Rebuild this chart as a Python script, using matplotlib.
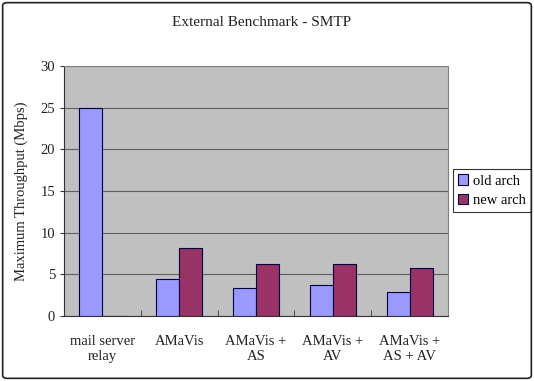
import matplotlib.pyplot as plt
import numpy as np
from matplotlib.patches import FancyBboxPatch

categories = ["mail server\nrelay", "AMaVis", "AMaVis +\nAS", "AMaVis +\nAV", "AMaVis +\nAS + AV"]
old_arch = [25, 4.4, 3.4, 3.7, 2.9]
new_arch = [0, 8.1, 6.2, 6.2, 5.8]
yticks = [0, 5, 10, 15, 20, 25, 30]

plt.rcParams['font.family'] = ['Liberation Serif', 'DejaVu Serif']

fig = plt.figure(figsize=(5.34, 3.81), dpi=100)
ax = fig.add_axes([0.12, 0.171, 0.719, 0.656])

x = np.arange(len(categories))
w = 0.3
ax.bar(x - w / 2, old_arch, w, color='#9999FF', edgecolor='#000040', linewidth=0.8,
       label='old arch', zorder=3)
ax.bar(x + w / 2, new_arch, w, color='#993366', edgecolor='#000040', linewidth=0.8,
       label='new arch', zorder=3)

ax.set_facecolor('#C0C0C0')
ax.set_xlim(-0.5, len(categories) - 0.5)
ax.set_ylim(0, 30)
ax.set_yticks(yticks)
ax.yaxis.grid(True, color='#606060', linewidth=0.8, zorder=0)
ax.set_axisbelow(True)

ax.set_xticks(x)
ax.set_xticklabels(categories, fontsize=10.5, color='#222222')
ax.tick_params(axis='x', length=0, pad=14)
ax.set_xticks(np.arange(len(categories) + 1) - 0.5, minor=True)
ax.tick_params(axis='x', which='minor', length=4, direction='in', color='#333333')
ax.tick_params(axis='y', length=3, labelsize=10.5, labelcolor='#222222', color='#333333')

for s in ['top', 'right']:
    ax.spines[s].set_color('#808080')
for s in ['left', 'bottom']:
    ax.spines[s].set_color('#333333')

ax.set_ylabel("Maximum Throughput (Mbps)", fontsize=10.5, color='#222222', labelpad=9)
fig.text(0.49, 0.94, "External Benchmark - SMTP", ha='center', va='center', fontsize=11,
         color='#222222')

leg = ax.legend(loc='center left', bbox_to_anchor=(1.005, 0.5), fontsize=10.5, frameon=True,
                fancybox=False, edgecolor='black', handlelength=0.7, handleheight=0.7,
                handletextpad=0.3, borderpad=0.35, labelspacing=0.45, borderaxespad=0.2)
leg.get_frame().set_linewidth(0.8)

border = FancyBboxPatch((0.005, 0.007), 0.99, 0.986, boxstyle='round,pad=0,rounding_size=0.008',
                        transform=fig.transFigure, fill=False, edgecolor='#222222', linewidth=1.2)
fig.patches.append(border)

fig.savefig('out.png', dpi=100)
